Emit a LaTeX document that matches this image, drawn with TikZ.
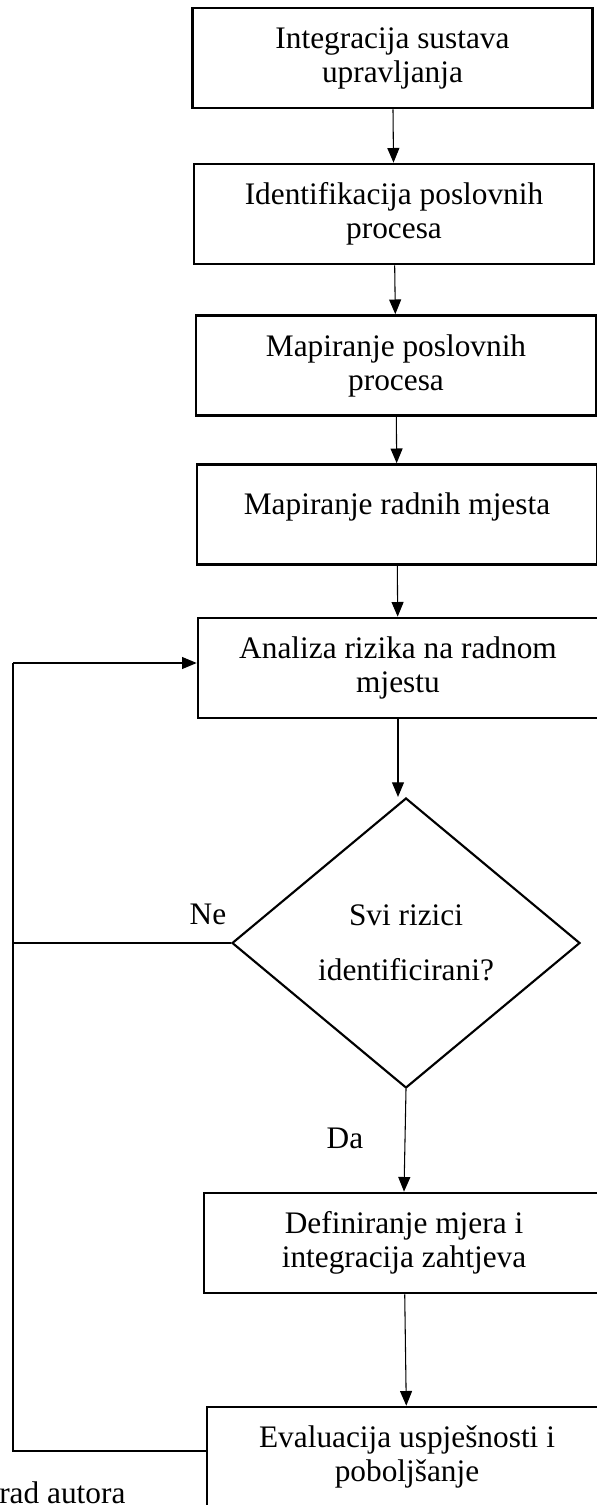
\documentclass[tikz,border=0pt]{standalone}
\usepackage{fontspec}
\setmainfont{Liberation Serif}
\usetikzlibrary{positioning,calc,arrows.meta,shapes.geometric}

\begin{document}
\begin{tikzpicture}[x=0.75pt, y=-0.75pt,
  stepbox/.style={draw=black, line width=2pt, minimum width=300pt,
               minimum height=75pt, inner sep=2pt, align=center,
               font=\fontsize{23.5}{25.5}\selectfont},
  decision/.style={draw=black, line width=1.6pt, diamond, aspect=1.2,
               minimum width=261pt, minimum height=217.5pt, inner sep=0pt,
               align=center, font=\fontsize{23.5}{25.5}\selectfont},
  answer/.style={font=\fontsize{23.5}{25.5}\selectfont, inner sep=0pt},
  edge/.style={line width=0.8pt, -{Triangle[length=11pt, width=9pt]}},
  back/.style={line width=0.8pt},
]
\useasboundingbox (0,0) rectangle (596,1505);

% Column of steps
\node[stepbox] (integ) at (392.5, 58) {Integracija sustava\\upravljanja};
\node[stepbox] (ident) at (394, 214) {Identifikacija poslovnih\\procesa};
\node[stepbox] (mapproc) at (396, 365.5) {Mapiranje poslovnih\\procesa};
\node[stepbox, text depth=17pt] (mapjob) at (397, 514.5) {Mapiranje radnih mjesta};
\node[stepbox] (risk) at (398, 668) {Analiza rizika na radnom\\mjestu};

% Decision
\node[decision] (allrisk) at (406, 943) {Svi rizici\\[16pt]identificirani?};
\node[answer] (no) at (208, 914) {Ne};
\node[answer] (yes) at (345, 1138) {Da};

% After the decision
\node[stepbox] (measures) at (404, 1243) {Definiranje mjera i\\integracija zahtjeva};
\node[stepbox] (evalstep) at (407, 1457) {Evaluacija uspješnosti i\\poboljšanje};

% Source line (cut by the page edge)
\node[answer, anchor=base west] (source) at (-1, 1503) {rad autora};

% Loop corners
\coordinate (looptop) at (13, 663);
\coordinate (loopbot) at (13, 1451);

% Main flow
\draw[edge] (integ) -- (ident);
\draw[edge] (ident) -- (mapproc);
\draw[edge] (mapproc) -- (mapjob);
\draw[edge] (mapjob) -- (risk);
\draw[edge] (risk.south) -- (risk.south |- allrisk.north);
\draw[edge] (allrisk.south) -- (measures.north);
\draw[edge] (measures) -- (evalstep);

% Feedback loop back to the risk analysis
\draw[back] (allrisk.west) -- (allrisk.west -| loopbot);
\draw[back] (evalstep.west |- loopbot) -- (loopbot) -- (looptop);
\draw[edge] (looptop) -- (looptop -| risk.west);

\end{tikzpicture}
\end{document}
